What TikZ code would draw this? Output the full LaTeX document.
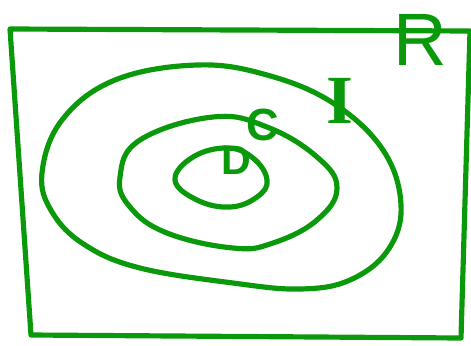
\documentclass[tikz,border=0pt]{standalone}
\usepackage{fontspec}
\setmainfont{Liberation Sans}
\newfontfamily\serifhand{Liberation Serif}
\usepackage{tikz}
\definecolor{penGreen}{HTML}{0A990A}

\begin{document}
\begin{tikzpicture}[
    x=0.0265cm, y=-0.0265cm,
    pen/.style={draw=penGreen, line width=3.9pt, line cap=round, line join=round},
    letter/.style={text=penGreen, inner sep=0pt}
  ]
    \useasboundingbox (0,0) rectangle (471,345);

    % the box R
    \draw[pen] (10,29) -- (470,31) -- (461,338) -- (31,335) -- cycle;

    % set I
    \draw[pen] plot[smooth cycle, tension=0.65] coordinates {
      (42,173) (62,120) (115,80) (197,65) (267,75) (333,103) (383,150)
      (401,205) (388,250) (350,280) (300,289) (233,283) (140,268) (85,245) (52,212)};

    % set C
    \draw[pen] plot[smooth cycle, tension=0.7] coordinates {
      (120,177) (140,140) (213,117) (267,127) (317,157) (337,188)
      (317,220) (273,243) (233,248) (167,233) (130,207)};

    % set D
    \draw[pen] plot[smooth cycle, tension=0.7] coordinates {
      (175,180) (193,157) (227,148) (253,158) (267,180)
      (257,197) (230,207) (197,200)};

    \node[letter, font=\fontsize{56}{56}\selectfont] (labelR) at (420,40) {R};
    \node[letter, font=\serifhand\bfseries\fontsize{52}{52}\selectfont] (labelI) at (340,101) {I};
    \node[letter, font=\bfseries\fontsize{34}{34}\selectfont] (labelC) at (263,125) {C};
    \node[letter, font=\bfseries\fontsize{31}{31}\selectfont] (labelD) at (236,160) {D};
\end{tikzpicture}
\end{document}
